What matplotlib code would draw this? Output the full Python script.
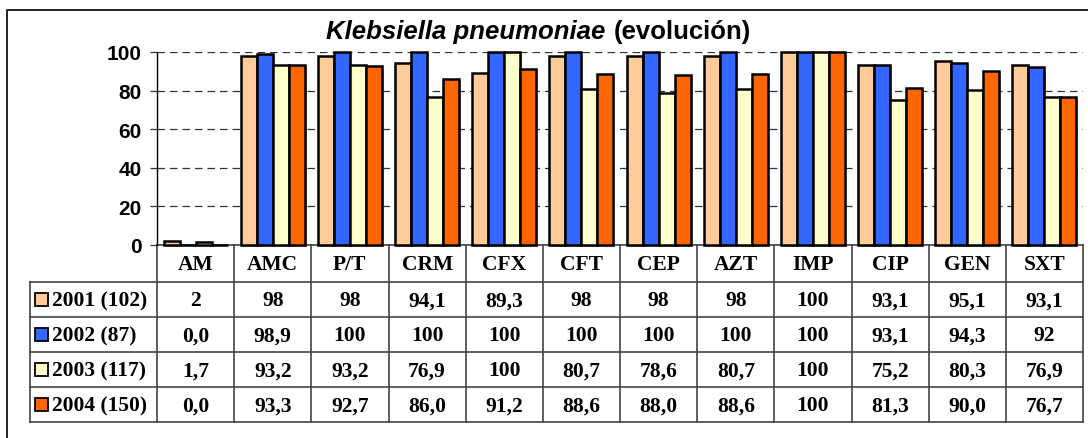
import numpy as np
import matplotlib
matplotlib.use("Agg")
import matplotlib.pyplot as plt
from matplotlib import patheffects as pe

#Data
categories = ["AM", "AMC", "P/T", "CRM", "CFX", "CFT", "CEP", "AZT", "IMP", "CIP", "GEN", "SXT"]
series_names = ["2001 (102)", "2002 (87)", "2003 (117)", "2004 (150)"]
colors = ["#FFCC99", "#3366FF", "#FFFFCC", "#FF6600"]

v2001 = [2, 98, 98, 94.1, 89.3, 98, 98, 98, 100, 93.1, 95.1, 93.1]
v2002 = [0.0, 98.9, 100, 100, 100, 100, 100, 100, 100, 93.1, 94.3, 92]
v2003 = [1.7, 93.2, 93.2, 76.9, 100, 80.7, 78.6, 80.7, 100, 75.2, 80.3, 76.9]
v2004 = [0.0, 93.3, 92.7, 86.0, 91.2, 88.6, 88.0, 88.6, 100, 81.3, 90.0, 76.7]

# table text as printed in the original
t2001 = ["2", "98", "98", "94,1", "89,3", "98", "98", "98", "100", "93,1", "95,1", "93,1"]
t2002 = ["0,0", "98,9", "100", "100", "100", "100", "100", "100", "100", "93,1", "94,3", "92"]
t2003 = ["1,7", "93,2", "93,2", "76,9", "100", "80,7", "78,6", "80,7", "100", "75,2", "80,3", "76,9"]
t2004 = ["0,0", "93,3", "92,7", "86,0", "91,2", "88,6", "88,0", "88,6", "100", "81,3", "90,0", "76,7"]

values = [v2001, v2002, v2003, v2004]
texts = [t2001, t2002, t2003, t2004]

W, H = 1088, 439
fig = plt.figure(figsize=(W / 100, H / 100), dpi=100)

# pixel layout
x0, x1 = 157, 1083
y_top, y_base = 53, 246
row_edges = [246, 283, 318, 353, 388, 423]
left_col = 30

#Bars
ax = fig.add_axes([x0 / W, 1 - y_base / H, (x1 - x0) / W, (y_base - y_top) / H])
n = len(categories)
x = np.arange(n)
bw = 0.207
shadow = [pe.SimplePatchShadow(offset=(1.5, -1.5), shadow_rgbFace="#777777", alpha=0.6), pe.Normal()]
for k, (vals, c) in enumerate(zip(values, colors)):
    bars = ax.bar(x + (k - 1.5) * bw, vals, width=bw, color=c, edgecolor="black",
                  linewidth=1.8, zorder=3, clip_on=False)
    for b in bars:
        b.set_path_effects(shadow)

ax.set_xlim(-0.5, n - 0.5)
ax.set_ylim(0, 100)
ax.set_yticks(range(0, 101, 20))
ax.set_xticks([])
ax.yaxis.grid(True, linestyle=(0, (6, 4)), color="#333333", linewidth=0.9, zorder=0)
ax.tick_params(axis="y", direction="out", length=5, width=0.9, color="#333333", pad=6)
for lab in ax.get_yticklabels():
    lab.set_fontfamily("Liberation Sans")
    lab.set_fontweight("bold")
    lab.set_fontsize(15)
for s in ["top", "right", "bottom"]:
    ax.spines[s].set_visible(False)
ax.spines["left"].set_linewidth(1.0)
ax.set_facecolor("none")

#Overlay (title, table, frame) in pixel coords
ov = fig.add_axes([0, 0, 1, 1], zorder=-1)
ov.set_xlim(0, W)
ov.set_ylim(H, 0)
ov.axis("off")

# frame
ov.plot([7, 7, W], [H, 11, 11], color="#222222", linewidth=1.4)

# title
ov.text(605, 32, "Klebsiella pneumoniae", ha="right", va="center", fontsize=18.5,
        fontweight="bold", fontstyle="italic", family="Liberation Sans")
ov.text(614, 32, "(evolución)", ha="left", va="center", fontsize=18.5,
        fontweight="bold", family="Liberation Sans")

# table grid
col_w = (x1 - x0) / n
lc = "#444444"
ov.plot([x0, x1], [row_edges[0], row_edges[0]], color=lc, linewidth=1.2)
for y in row_edges[1:]:
    ov.plot([left_col, x1], [y, y], color=lc, linewidth=1.2)
for i in range(n + 1):
    xx = x0 + i * col_w
    ov.plot([xx, xx], [row_edges[0], row_edges[-1]], color=lc, linewidth=1.2)
ov.plot([left_col, left_col], [row_edges[1], row_edges[-1]], color=lc, linewidth=1.2)

tfont = dict(family="Liberation Serif", fontweight="bold", fontsize=15.5)
for i, cat in enumerate(categories):
    ov.text(x0 + (i + 0.5) * col_w, (row_edges[0] + row_edges[1]) / 2 + 1, cat,
            ha="center", va="center", **tfont)

for r, (name, c, row) in enumerate(zip(series_names, colors, texts)):
    yc = (row_edges[r + 1] + row_edges[r + 2]) / 2 + 1
    ov.add_patch(plt.Rectangle((35, yc - 7.5), 13, 13, facecolor=c, edgecolor="black", linewidth=1.3))
    ov.text(52, yc, name, ha="left", va="center", **tfont)
    for i, t in enumerate(row):
        ov.text(x0 + (i + 0.5) * col_w, yc, t, ha="center", va="center", **tfont)

fig.savefig("out.png", dpi=100)
